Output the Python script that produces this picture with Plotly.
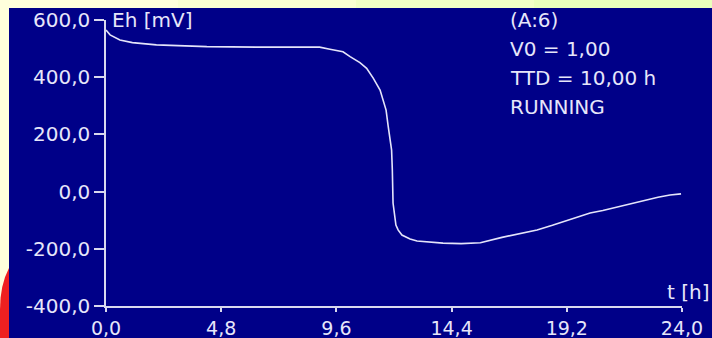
import plotly.graph_objects as go

# ---- data ----
t_hours = [0.0, 0.17, 0.58, 1.1, 2.1, 4.2, 6.5, 8.9, 9.33, 9.875, 10.17, 10.58,
           10.86, 11.14, 11.42, 11.55, 11.67, 11.76, 11.83, 11.9, 11.93, 11.96,
           12.08, 12.17, 12.33, 12.67, 12.96, 14.04, 14.8, 15.6, 16.5, 17.2,
           17.96, 18.6, 19.33, 20.17, 20.7, 21.3, 21.9, 22.4, 23.0, 23.5, 23.96]
eh_mv = [565, 548, 530, 521, 513, 507, 505, 505, 498, 489, 472, 451,
         431, 396, 355, 314, 285, 227, 180, 145, 76, -40,
         -117, -134, -152, -166, -173, -180, -182, -179, -160, -148,
         -134, -118, -99, -75, -66, -54, -42, -30, -20, -12, -8]

x_ticks = [0.0, 4.8, 9.6, 14.4, 19.2, 24.0]
x_tick_labels = ["0,0", "4,8", "9,6", "14,4", "19,2", "24,0"]
y_ticks = [-400, -200, 0, 200, 400, 600]
y_tick_labels = ["-400,0", "-200,0", "0,0", "200,0", "400,0", "600,0"]

info_lines = ["(A:6)", "V0 = 1,00", "TTD = 10,00 h", "RUNNING"]

NAVY = "#000088"
FG = "#E6E6FA"
FONT = "DejaVu Sans"
FS = 20

W, H = 712, 338
L, R, T, B = 106, 30, 20, 32
PW, PH = W - L - R, H - T - B


def px(xp):
    return (xp - L) / PW


def py(yp):
    return (H - B - yp) / PH


fig = go.Figure()
fig.add_trace(go.Scatter(x=t_hours, y=eh_mv, mode="lines",
                         line=dict(color="#E4E4FA", width=1.6),
                         hoverinfo="skip", showlegend=False))

shapes = []
# top pale strip (gradient approximated)
strip_cols = ["#FFFFDC", "#FAFFD2", "#F2FFC6", "#EAFFBC"]
n = len(strip_cols)
for i, c in enumerate(strip_cols):
    shapes.append(dict(type="rect", xref="paper", yref="paper",
                       x0=px(W * i / n), x1=px(W * (i + 1) / n),
                       y0=py(8), y1=py(0), fillcolor=c, line_width=0, layer="above"))
# left pale strip
shapes.append(dict(type="rect", xref="paper", yref="paper",
                   x0=px(0), x1=px(9), y0=py(H), y1=py(0),
                   fillcolor="#FFFFDC", line_width=0, layer="above"))
# red blob bottom-left
path = "M {:.5f},{:.5f} Q {:.5f},{:.5f} {:.5f},{:.5f} L {:.5f},{:.5f} L {:.5f},{:.5f} Z".format(
    px(9), py(268), px(0), py(285), px(0), py(310), px(0), py(H), px(9), py(H))
shapes.append(dict(type="path", xref="paper", yref="paper", path=path,
                   fillcolor="#EE2020", line_width=0, layer="above"))

annotations = [
    dict(text="Eh [mV]", xref="paper", yref="paper", x=px(110), y=py(20),
         xanchor="left", yanchor="middle", showarrow=False,
         font=dict(family=FONT, size=FS, color=FG)),
    dict(text="t [h]", xref="paper", yref="paper", x=px(711), y=py(292),
         xanchor="right", yanchor="middle", showarrow=False,
         font=dict(family=FONT, size=FS, color=FG)),
]
for i, line in enumerate(info_lines):
    annotations.append(dict(text=line, xref="paper", yref="paper",
                            x=px(508), y=py(20 + 29 * i), xanchor="left",
                            yanchor="middle", showarrow=False,
                            font=dict(family=FONT, size=FS, color=FG)))

fig.update_layout(
    width=W, height=H, autosize=False,
    margin=dict(l=L, r=R, t=T, b=B, pad=0, autoexpand=False),
    paper_bgcolor=NAVY, plot_bgcolor=NAVY,
    shapes=shapes, annotations=annotations,
    font=dict(family=FONT, size=FS, color=FG),
    xaxis=dict(range=[0, 24], tickvals=x_ticks, ticktext=x_tick_labels,
               tickfont=dict(family=FONT, size=19, color=FG),
               showgrid=False, zeroline=False, showline=True, linecolor="#D8D8EE",
               linewidth=1.5, ticks="outside", ticklen=4, tickcolor="#D8D8EE",
               tickwidth=1.5, fixedrange=True, automargin=False),
    yaxis=dict(range=[-400, 600], tickvals=y_ticks, ticktext=y_tick_labels,
               showgrid=False, zeroline=False, showline=True, linecolor="#D8D8EE",
               linewidth=1.5, ticks="outside", ticklen=10, tickcolor="#D8D8EE",
               tickwidth=1.5, fixedrange=True, automargin=False),
)

fig.write_html(
    "out.html",
    config={"displayModeBar": False},
    post_script="document.body.style.margin='0';document.body.style.padding='0';"
                "document.body.style.overflow='hidden';"
                "document.documentElement.style.overflow='hidden';",
)
